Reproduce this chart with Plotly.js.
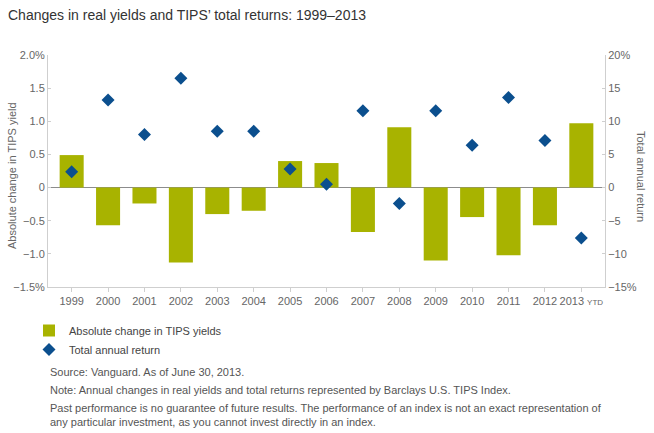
<!DOCTYPE html>
<html>
<head>
<meta charset="utf-8">
<script src="https://cdn.plot.ly/plotly-3.0.1.min.js"></script>
<style>
  html, body { margin: 0; padding: 0; background: #fff; }
  #chart { width: 654px; height: 433px; }
</style>
</head>
<body>
<div id="chart"></div>
<script>
// Calendar years shown along the bottom axis
const years = ['1999','2000','2001','2002','2003','2004','2005','2006','2007','2008','2009','2010','2011','2012','2013'];
const yearLabels = ['1999','2000','2001','2002','2003','2004','2005','2006','2007','2008','2009','2010','2011','2012',
  '2013 <span style="font-size:8px">YTD</span>'];

// Absolute change in TIPS real yields (percentage points, left axis)
const yieldChange = [0.49, -0.57, -0.24, -1.13, -0.40, -0.35, 0.40, 0.37, -0.67, 0.91, -1.10, -0.445, -1.02, -0.57, 0.97];

// TIPS total annual return (%, right axis)
const totalReturn = [2.4, 13.2, 8.0, 16.5, 8.5, 8.5, 2.8, 0.5, 11.6, -2.4, 11.6, 6.4, 13.6, 7.1, -7.6];

// Axis tick labels
const leftTickVals = [2.0, 1.5, 1.0, 0.5, 0, -0.5, -1.0, -1.5];
const leftTickText = ['2.0%', '1.5', '1.0', '0.5', '0', '\u22120.5', '\u22121.0', '\u22121.5%'];
const rightTickVals = [20, 15, 10, 5, 0, -5, -10, -15];
const rightTickText = ['20%', '15', '10', '5', '0', '\u22125', '\u221210', '\u221215%'];

const FONT = 'Liberation Sans, Arial, Helvetica, sans-serif';
const W = 654, H = 433;
const M = { l: 48, r: 49, t: 55, b: 146 };
const plotW = W - M.l - M.r, plotH = H - M.t - M.b;
// pixel position -> paper fraction
const px = x => (x - M.l) / plotW;
const py = y => (H - M.b - y) / plotH;

const traces = [
  {
    type: 'bar',
    name: 'Absolute change in TIPS yields',
    x: years,
    y: yieldChange,
    yaxis: 'y',
    marker: { color: '#A8B300' },
    width: 0.66,
    hoverinfo: 'skip'
  },
  {
    type: 'scatter',
    mode: 'markers',
    name: 'Total annual return',
    x: years,
    y: totalReturn,
    yaxis: 'y2',
    marker: { symbol: 'diamond', size: 10, color: '#0B4F8E' },
    hoverinfo: 'skip'
  }
];

const noteFont = { family: FONT, size: 11, color: '#555' };
const note = (text, y) => ({
  text: text, xref: 'paper', yref: 'paper', x: px(48), y: py(y),
  xanchor: 'left', yanchor: 'middle', showarrow: false, align: 'left', font: noteFont
});

const layout = {
  width: W, height: H,
  margin: M,
  paper_bgcolor: '#fff',
  plot_bgcolor: '#fff',
  font: { family: FONT, size: 11, color: '#666' },
  title: {
    text: 'Changes in real yields and TIPS\u2019 total returns: 1999\u20132013',
    x: 8 / W, xref: 'container', xanchor: 'left',
    y: 1 - 15 / H, yref: 'container', yanchor: 'middle',
    font: { family: FONT, size: 14, color: '#333' }
  },
  showlegend: true,
  legend: {
    orientation: 'v',
    x: px(29), xanchor: 'left',
    y: py(316), yanchor: 'top',
    font: { family: FONT, size: 11, color: '#444' },
    bgcolor: 'rgba(0,0,0,0)',
    tracegroupgap: 0,
    itemwidth: 30
  },
  xaxis: {
    type: 'category',
    tickvals: years,
    ticktext: yearLabels,
    range: [-0.65, 14.65],
    showgrid: false,
    zeroline: false,
    showline: true,
    linecolor: '#cfcfcf',
    linewidth: 1,
    ticks: 'outside',
    ticklen: 4,
    tickcolor: '#cfcfcf',
    tickfont: { family: FONT, size: 11, color: '#666' },
    fixedrange: true
  },
  yaxis: {
    range: [-1.5, 2.0],
    tickvals: leftTickVals,
    ticktext: leftTickText,
    showgrid: false,
    zeroline: true,
    zerolinecolor: '#8c8c8c',
    zerolinewidth: 1.5,
    showline: true,
    linecolor: '#cfcfcf',
    linewidth: 1,
    ticks: 'inside',
    ticklen: 3,
    tickcolor: '#cfcfcf',
    tickfont: { family: FONT, size: 11, color: '#666' },
    fixedrange: true
  },
  yaxis2: {
    overlaying: 'y',
    side: 'right',
    range: [-15, 20],
    tickvals: rightTickVals,
    ticktext: rightTickText,
    showgrid: false,
    zeroline: false,
    showline: true,
    linecolor: '#cfcfcf',
    linewidth: 1,
    ticks: 'inside',
    ticklen: 3,
    tickcolor: '#cfcfcf',
    tickfont: { family: FONT, size: 11, color: '#666' },
    fixedrange: true
  },
  annotations: [
    {
      text: 'Absolute change in TIPS yield', textangle: -90,
      xref: 'paper', yref: 'paper', x: px(12), y: py(176),
      xanchor: 'center', yanchor: 'middle', showarrow: false,
      font: { family: FONT, size: 11, color: '#666' }
    },
    {
      text: 'Total annual return', textangle: 90,
      xref: 'paper', yref: 'paper', x: px(641), y: py(176),
      xanchor: 'center', yanchor: 'middle', showarrow: false,
      font: { family: FONT, size: 11, color: '#666' }
    },
    note('Source: Vanguard. As of June 30, 2013.', 372),
    note('Note: Annual changes in real yields and total returns represented by Barclays U.S. TIPS Index.', 390),
    note('Past performance is no guarantee of future results. The performance of an index is not an exact representation of<br>any particular investment, as you cannot invest directly in an index.', 415)
  ]
};

Plotly.newPlot('chart', traces, layout, { displayModeBar: false, staticPlot: true });
</script>
</body>
</html>
